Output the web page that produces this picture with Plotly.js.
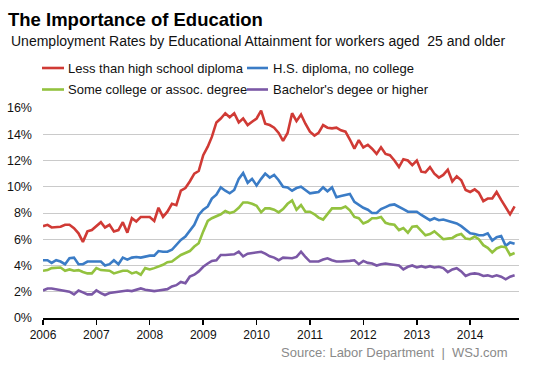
<!DOCTYPE html>
<html>
<head>
<meta charset="utf-8">
<script src="https://cdn.plot.ly/plotly-3.0.1.min.js"></script>
<style>
  html, body { margin: 0; padding: 0; background: #fff; }
  #chart { width: 553px; height: 369px; }
</style>
</head>
<body>
<div id="chart"></div>
<script>
// ---- Data (monthly, Jan 2006 – Nov 2014), unemployment rate in % ----
const startYear = 2006;
const startMonth = 1;
const seriesNames = ["Less than high school diploma", "H.S. diploma, no college",
                     "Some college or assoc. degree", "Bachelor's degee or higher"];
const seriesColors = ["#d03a35", "#3b7cc6", "#93c23f", "#7b58a6"];

const less_hs = [
  7.0, 7.1, 6.9, 6.9, 6.95, 7.1, 7.1, 6.85, 6.45, 5.8, 6.6, 6.7,
  7.0, 7.3, 6.9, 7.1, 6.6, 6.7, 7.3, 6.5, 7.6, 7.35, 7.7, 7.7,
  7.7, 7.4, 8.4, 7.7, 8.1, 8.7, 8.6, 9.7, 9.9, 10.4, 11.0, 11.2,
  12.4, 13.05, 13.8, 14.9, 15.2, 15.6, 15.3, 15.6, 14.9, 15.2, 14.7, 14.95,
  15.2, 15.8, 14.8, 14.7, 14.5, 14.1, 13.5, 14.1, 15.6, 15.0, 15.5, 14.8,
  14.2, 13.9, 14.1, 14.7, 14.5, 14.45, 14.5, 14.3, 14.2, 13.6, 12.9, 13.55,
  13.0, 13.2, 12.9, 12.5, 13.0, 12.5, 12.4, 12.0, 11.5, 12.1, 12.0, 11.65,
  12.0, 11.15, 11.1, 11.5, 11.0, 10.7, 10.9, 11.3, 10.4, 10.8, 10.5, 9.75,
  9.6, 9.8, 9.55, 8.9, 9.1, 9.1, 9.6, 9.0, 8.4, 7.9, 8.5
];
const hs_only = [
  4.4, 4.4, 4.2, 4.4, 4.3, 4.1, 4.55, 4.6, 4.1, 4.1, 4.3, 4.3,
  4.3, 4.3, 4.0, 4.1, 4.4, 4.1, 4.6, 4.45, 4.6, 4.65, 4.6, 4.7,
  4.75, 4.75, 5.1, 5.05, 5.05, 5.2, 5.6, 5.95, 6.2, 6.6, 7.1, 7.85,
  8.25, 8.5, 9.1, 9.4, 9.95, 9.7, 9.5, 9.75, 10.6, 11.05, 10.3, 10.6,
  10.1, 10.6, 11.0, 10.7, 10.9, 10.5, 10.0, 9.95, 9.7, 9.9, 10.0, 9.75,
  9.5, 9.55, 9.6, 9.95, 9.65, 9.95, 9.2, 9.3, 9.4, 9.45, 8.85, 8.6,
  8.4, 8.25, 8.0, 8.0, 8.3, 8.45, 8.6, 8.65, 8.5, 8.3, 8.1, 8.1,
  8.1, 7.85, 7.65, 7.45, 7.6, 7.45, 7.5, 7.4, 7.25, 7.2, 7.0, 6.7,
  6.45, 6.4, 6.3, 6.3, 6.45, 5.9, 6.15, 6.25, 5.5, 5.75, 5.65
];
const some_college = [
  3.6, 3.65, 3.8, 3.85, 3.85, 3.6, 3.7, 3.6, 3.65, 3.5, 3.4, 3.4,
  3.8, 3.65, 3.6, 3.6, 3.4, 3.5, 3.6, 3.6, 3.4, 3.5, 3.3, 3.8,
  3.7, 3.8, 3.9, 4.05, 4.25, 4.3, 4.55, 4.8, 4.95, 5.1, 5.45, 5.7,
  6.6, 7.4, 7.6, 7.75, 7.9, 8.15, 8.0, 8.1, 8.4, 8.8, 8.8, 8.7,
  8.55, 8.05, 8.35, 8.35, 8.25, 8.05, 8.3, 8.7, 8.95, 8.25, 8.6, 8.1,
  8.1, 7.9, 7.65, 7.5, 7.9, 8.35, 8.35, 8.35, 8.5, 8.2, 7.7, 7.6,
  7.2, 7.35, 7.6, 7.6, 7.7, 7.25, 7.15, 7.1, 6.7, 6.85, 6.5, 6.95,
  7.0, 6.6, 6.3, 6.4, 6.6, 6.3, 6.0, 6.05, 6.1, 6.3, 6.4, 6.05,
  6.0, 6.2, 6.0, 5.55, 5.35, 5.0, 5.3, 5.45, 5.4, 4.8, 4.95
];
const bachelors = [
  2.1, 2.25, 2.25, 2.2, 2.15, 2.1, 2.0, 1.8, 2.1, 1.95, 1.8, 1.8,
  2.1, 1.9, 1.75, 1.9, 1.95, 2.05, 2.1, 2.1, 2.05, 2.15, 2.25, 2.15,
  2.1, 2.05, 2.1, 2.15, 2.2, 2.4, 2.5, 2.75, 2.65, 3.15, 3.3, 3.55,
  3.9, 4.15, 4.35, 4.4, 4.8, 4.8, 4.8, 4.85, 5.05, 4.7, 4.9, 4.95,
  5.0, 5.05, 4.9, 4.7, 4.6, 4.4, 4.6, 4.6, 4.55, 4.65, 5.05, 4.65,
  4.3, 4.3, 4.3, 4.45, 4.55, 4.4, 4.3, 4.3, 4.3, 4.35, 4.4, 4.1,
  4.35, 4.2, 4.15, 4.0, 4.1, 4.15, 4.1, 4.05, 4.0, 3.7, 3.9, 4.0,
  3.85, 3.95, 3.85, 3.95, 3.85, 3.9, 3.8, 3.5, 3.7, 3.8, 3.55, 3.2,
  3.35, 3.4, 3.35, 3.2, 3.25, 3.15, 3.25, 3.15, 2.95, 3.15, 3.25
];
const yTickVals = [0, 2, 4, 6, 8, 10, 12, 14, 16];
const yTickText = ["0%", "2%", "4%", "6%", "8%", "10%", "12%", "14%", "16%"];

// ---- Build month dates ----
function monthDates(n) {
  const out = [];
  for (let i = 0; i < n; i++) {
    const m0 = startMonth - 1 + i;
    const y = startYear + Math.floor(m0 / 12);
    const m = (m0 % 12) + 1;
    out.push(y + "-" + String(m).padStart(2, "0") + "-01");
  }
  return out;
}
const dates = monthDates(less_hs.length);
const allSeries = [less_hs, hs_only, some_college, bachelors];

const traces = allSeries.map((vals, k) => ({
  type: "scatter",
  mode: "lines",
  x: dates,
  y: vals,
  name: seriesNames[k],
  line: { color: seriesColors[k], width: 2.6, shape: "linear" },
  showlegend: false,
  hoverinfo: "skip"
}));

// ---- Pixel geometry helpers (plot area 43..519 x, 108..318 y) ----
const L = 43, R = 519, T = 108, B = 318;
const W = 553, H = 369;
const px = x => (x - L) / (R - L);
const py = y => (B - y) / (B - T);

const FONT = "Liberation Sans, Arial, sans-serif";

// Manual legend (two rows, two columns)
const legendPos = [
  { lx0: 42, lx1: 64, tx: 66, y: 68 },
  { lx0: 247, lx1: 268, tx: 271, y: 68 },
  { lx0: 42, lx1: 64, tx: 66, y: 89.5 },
  { lx0: 247, lx1: 268, tx: 271, y: 89.5 }
];
const shapes = legendPos.map((p, k) => ({
  type: "line", xref: "paper", yref: "paper",
  x0: px(p.lx0), x1: px(p.lx1), y0: py(p.y), y1: py(p.y),
  line: { color: seriesColors[k], width: 2.6 }
}));
const annotations = legendPos.map((p, k) => ({
  xref: "paper", yref: "paper", x: px(p.tx), y: py(p.y),
  xanchor: "left", yanchor: "middle", showarrow: false,
  text: seriesNames[k],
  font: { family: FONT, size: 13, color: "#111" }
}));
annotations.push({
  xref: "paper", yref: "paper", x: px(9), y: py(40.8),
  xanchor: "left", yanchor: "middle", showarrow: false,
  text: "Unemployment Rates by Educational Attainment for workers aged \u00a025 and older",
  font: { family: FONT, size: 14, color: "#111" }
});
annotations.push({
  xref: "paper", yref: "paper", x: px(510), y: py(352),
  xanchor: "right", yanchor: "middle", showarrow: false,
  text: "Source: Labor Department \u00a0|\u00a0 WSJ.com",
  font: { family: FONT, size: 13, color: "#8a8a8a" }
});

const layout = {
  width: W, height: H,
  paper_bgcolor: "#fff", plot_bgcolor: "#fff",
  margin: { l: L, r: W - R, t: T, b: H - B, pad: 0 },
  font: { family: FONT, color: "#111" },
  title: {
    text: "<b>The Importance of Education</b>",
    x: 8 / W, xanchor: "left", xref: "container",
    y: 1 - 19.5 / H, yanchor: "middle", yref: "container",
    font: { family: FONT, size: 18.5, color: "#000" }
  },
  xaxis: {
    type: "date",
    range: ["2006-01-01", "2014-12-01"],
    tickvals: ["2006-01-01","2007-01-01","2008-01-01","2009-01-01","2010-01-01",
               "2011-01-01","2012-01-01","2013-01-01","2014-01-01"],
    ticktext: ["2006","2007","2008","2009","2010","2011","2012","2013","2014"],
    showgrid: false, zeroline: false,
    showline: true, linecolor: "#000", linewidth: 2,
    ticks: "outside", ticklen: 5, tickwidth: 1.5, tickcolor: "#000",
    tickfont: { family: FONT, size: 12, color: "#111" },
    fixedrange: true
  },
  yaxis: {
    range: [0, 16],
    tickvals: yTickVals, ticktext: yTickText,
    showgrid: true, gridcolor: "#cacaca", gridwidth: 1,
    zeroline: false, showline: false, ticks: "",
    ticklabelstandoff: 10,
    tickfont: { family: FONT, size: 12.5, color: "#111" },
    fixedrange: true
  },
  showlegend: false,
  shapes: shapes,
  annotations: annotations,
  hovermode: false
};

Plotly.newPlot("chart", traces, layout, { displayModeBar: false, staticPlot: true });
</script>
</body>
</html>
